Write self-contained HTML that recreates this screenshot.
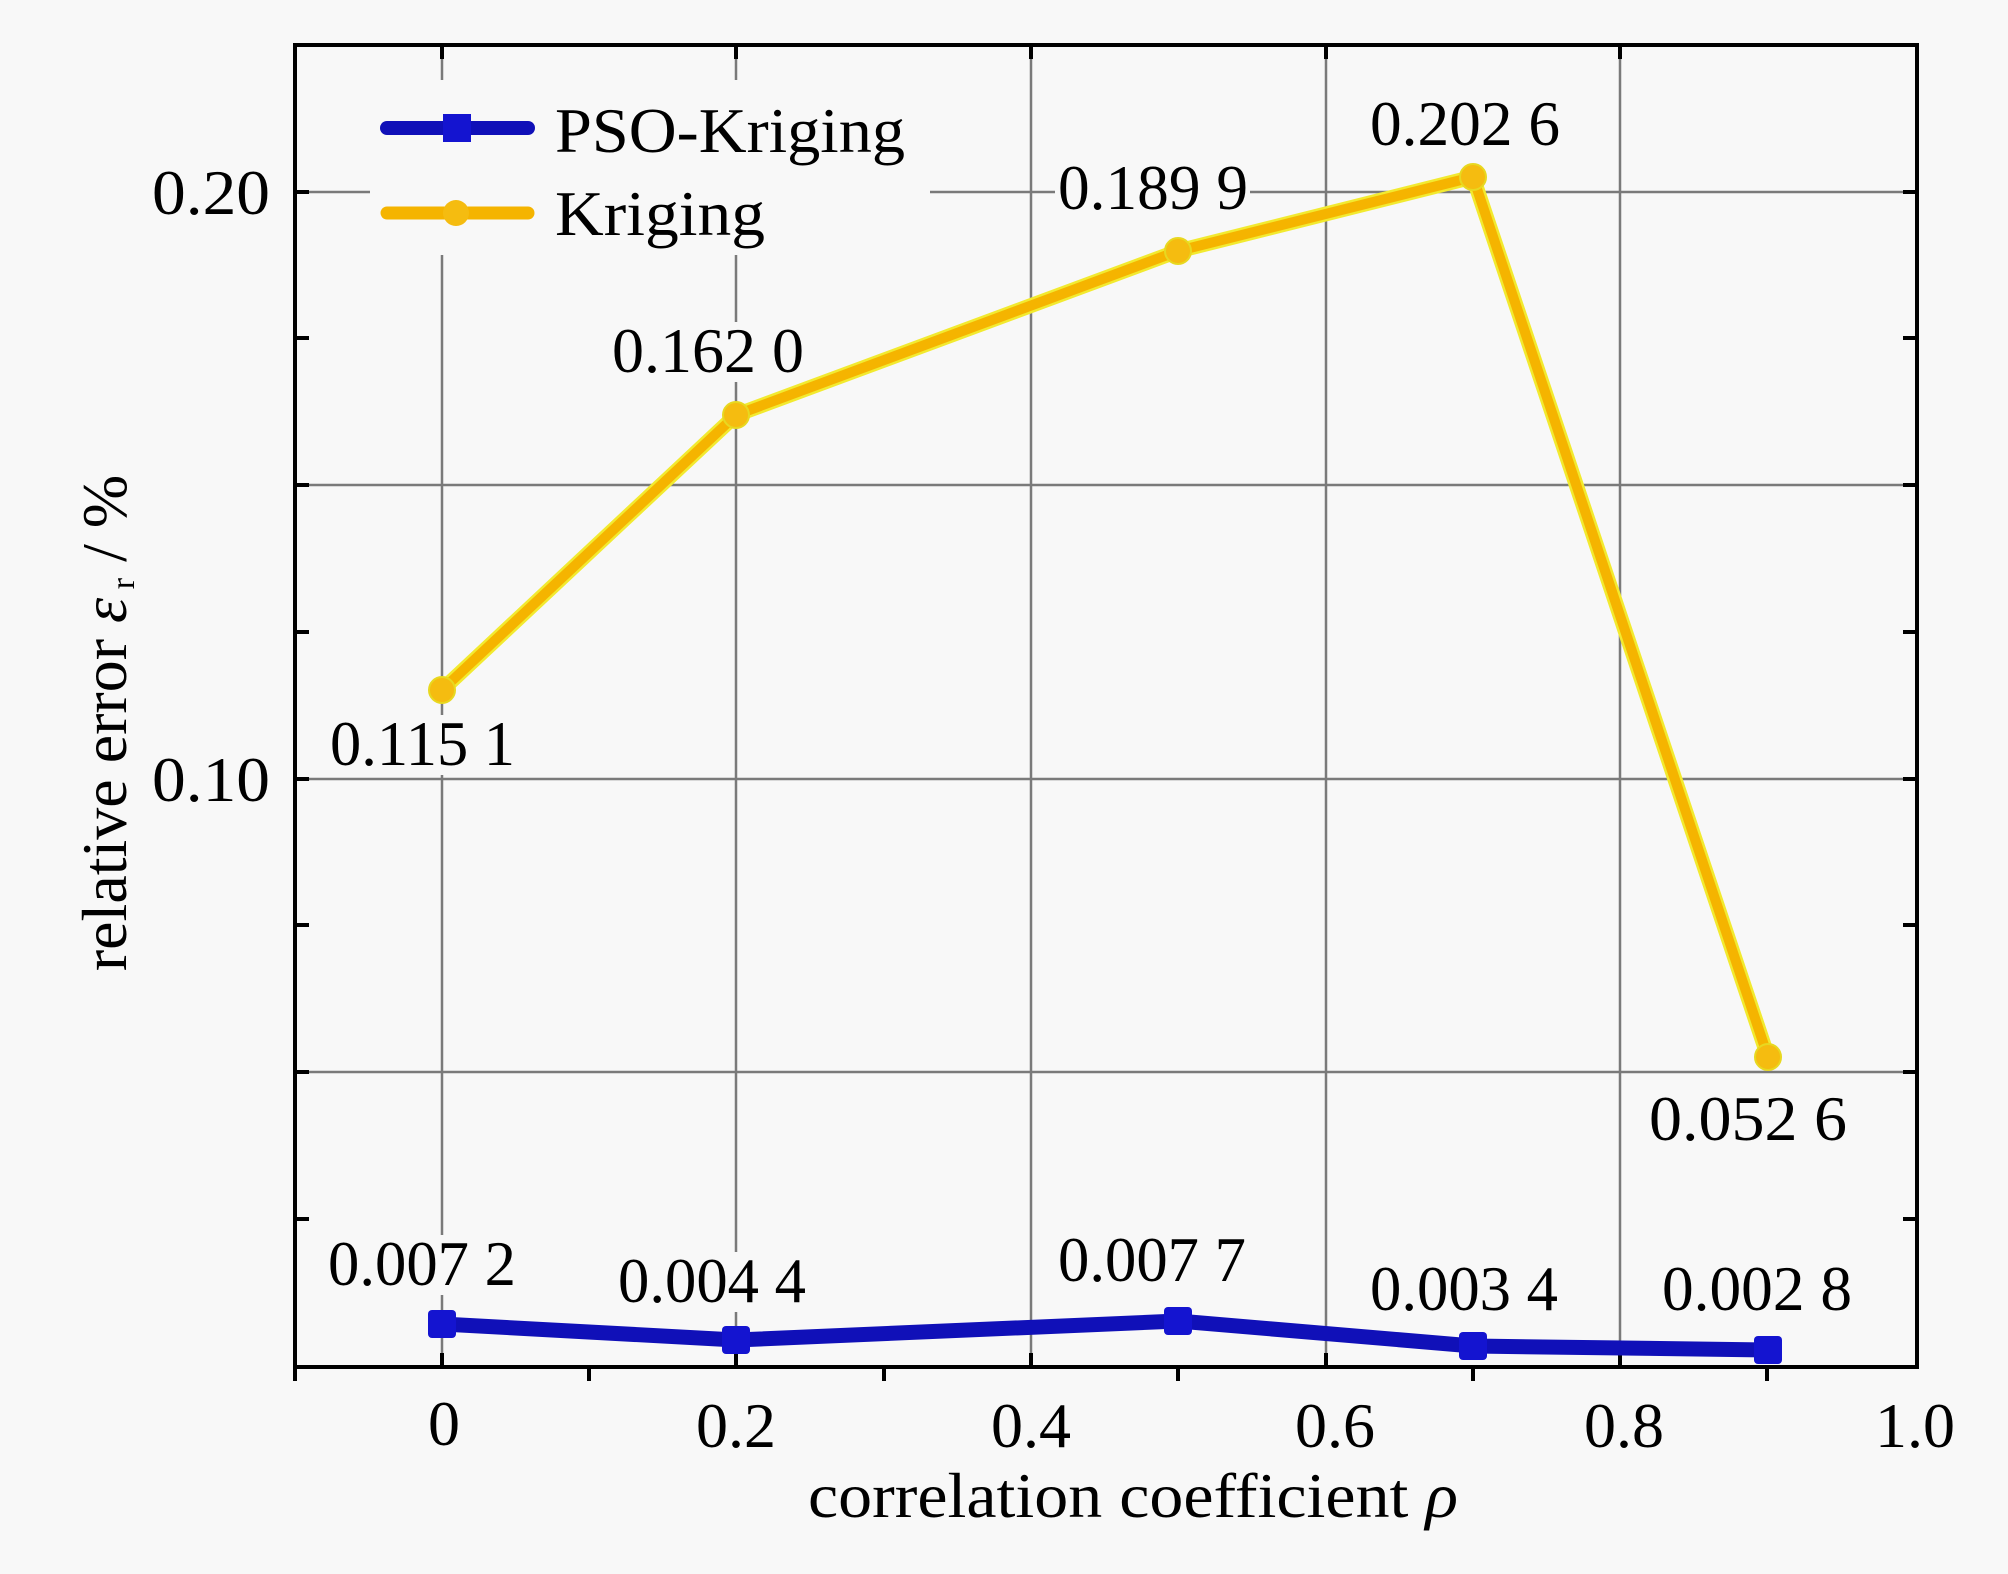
<!DOCTYPE html>
<html><head><meta charset="utf-8"><style>html,body{margin:0;padding:0;background:#f8f8f8}</style></head>
<body>
<svg width="2008" height="1569" viewBox="0 0 2008 1569" xmlns="http://www.w3.org/2000/svg" font-family="Liberation Serif, serif">
<rect width="2008" height="1569" fill="#f8f8f8"/>
<g stroke="#7a7a7a" stroke-width="2.5">
<line x1="442" y1="45" x2="442" y2="1367"/>
<line x1="736" y1="45" x2="736" y2="1367"/>
<line x1="1031" y1="45" x2="1031" y2="1367"/>
<line x1="1326" y1="45" x2="1326" y2="1367"/>
<line x1="1620" y1="45" x2="1620" y2="1367"/>
<line x1="295" y1="192" x2="1917" y2="192"/>
<line x1="295" y1="485" x2="1917" y2="485"/>
<line x1="295" y1="779" x2="1917" y2="779"/>
<line x1="295" y1="1072" x2="1917" y2="1072"/>
</g>
<!-- legend and label backgrounds -->
<rect x="370" y="80" width="560" height="175" fill="#f8f8f8"/>
<rect x="1055" y="160" width="195" height="60" fill="#f8f8f8"/>
<rect x="1365" y="95" width="195" height="60" fill="#f8f8f8"/>
<rect x="610" y="322" width="195" height="60" fill="#f8f8f8"/>
<rect x="328" y="715" width="195" height="60" fill="#f8f8f8"/>
<rect x="1645" y="1090" width="200" height="60" fill="#f8f8f8"/>
<g fill="#f8f8f8">
<rect x="325" y="1235" width="195" height="60"/>
<rect x="615" y="1252" width="195" height="60"/>
<rect x="1055" y="1230" width="195" height="60"/>
<rect x="1368" y="1260" width="195" height="60"/>
<rect x="1660" y="1260" width="195" height="60"/>
</g>
<!-- frame -->
<rect x="295" y="45" width="1622" height="1322" fill="none" stroke="#000" stroke-width="4"/>
<g stroke="#000" stroke-width="4">
<line x1="295" y1="1367" x2="295" y2="1381"/>
<line x1="442" y1="1353" x2="442" y2="1367"/>
<line x1="589" y1="1367" x2="589" y2="1381"/>
<line x1="736" y1="1353" x2="736" y2="1367"/>
<line x1="884" y1="1367" x2="884" y2="1381"/>
<line x1="1031" y1="1353" x2="1031" y2="1367"/>
<line x1="1178" y1="1367" x2="1178" y2="1381"/>
<line x1="1326" y1="1353" x2="1326" y2="1367"/>
<line x1="1473" y1="1367" x2="1473" y2="1381"/>
<line x1="1620" y1="1353" x2="1620" y2="1367"/>
<line x1="1767" y1="1367" x2="1767" y2="1381"/>
<line x1="442" y1="45" x2="442" y2="59"/><line x1="736" y1="45" x2="736" y2="59"/><line x1="1031" y1="45" x2="1031" y2="59"/><line x1="1326" y1="45" x2="1326" y2="59"/><line x1="1620" y1="45" x2="1620" y2="59"/>
<line x1="295" y1="192" x2="309" y2="192"/><line x1="295" y1="338" x2="309" y2="338"/><line x1="295" y1="485" x2="309" y2="485"/><line x1="295" y1="632" x2="309" y2="632"/><line x1="295" y1="779" x2="309" y2="779"/><line x1="295" y1="925" x2="309" y2="925"/><line x1="295" y1="1072" x2="309" y2="1072"/><line x1="295" y1="1219" x2="309" y2="1219"/>
<line x1="1903" y1="192" x2="1917" y2="192"/><line x1="1903" y1="338" x2="1917" y2="338"/><line x1="1903" y1="485" x2="1917" y2="485"/><line x1="1903" y1="632" x2="1917" y2="632"/><line x1="1903" y1="779" x2="1917" y2="779"/><line x1="1903" y1="925" x2="1917" y2="925"/><line x1="1903" y1="1072" x2="1917" y2="1072"/><line x1="1903" y1="1219" x2="1917" y2="1219"/>
</g>
<!-- Kriging -->
<polyline points="442,690 736,415 1178,251 1473,177 1768,1057" fill="none" stroke="#f2ea30" stroke-width="15" stroke-linejoin="round"/>
<polyline points="442,690 736,415 1178,251 1473,177 1768,1057" fill="none" stroke="#f5b400" stroke-width="10" stroke-linejoin="round"/>
<g fill="#f5bc10" stroke="#e8d820" stroke-width="2">
<circle cx="442" cy="690" r="13"/><circle cx="736" cy="415" r="13"/><circle cx="1178" cy="251" r="13"/><circle cx="1473" cy="177" r="13"/><circle cx="1768" cy="1057" r="13"/>
</g>
<!-- PSO -->
<polyline points="442,1324 736,1340 1178,1321 1473,1346 1768,1350" fill="none" stroke="#1010b8" stroke-width="15" stroke-linejoin="round"/>
<g fill="#1414d0">
<rect x="428" y="1310" width="28" height="28" rx="4"/><rect x="722" y="1326" width="28" height="28" rx="4"/><rect x="1164" y="1307" width="28" height="28" rx="4"/><rect x="1459" y="1332" width="28" height="28" rx="4"/><rect x="1754" y="1336" width="28" height="28" rx="4"/>
</g>
<!-- legend -->
<line x1="387" y1="128" x2="528" y2="128" stroke="#1010b8" stroke-width="14" stroke-linecap="round"/>
<rect x="443" y="114" width="28" height="28" fill="#1414d0"/>
<line x1="387" y1="213" x2="528" y2="213" stroke="#f5b400" stroke-width="13" stroke-linecap="round"/>
<circle cx="456" cy="213" r="13" fill="#f5bc10"/>
<g font-size="64" fill="#000">
<text x="555" y="152" textLength="350" lengthAdjust="spacingAndGlyphs">PSO-Kriging</text>
<text x="555" y="235" textLength="210" lengthAdjust="spacingAndGlyphs">Kriging</text>
</g>
<!-- data labels -->
<g font-size="64" fill="#000">
<text x="330" y="765" textLength="185" lengthAdjust="spacingAndGlyphs">0.115 1</text>
<text x="612" y="372" textLength="192" lengthAdjust="spacingAndGlyphs">0.162 0</text>
<text x="1058" y="209" textLength="190" lengthAdjust="spacingAndGlyphs">0.189 9</text>
<text x="1370" y="145" textLength="190" lengthAdjust="spacingAndGlyphs">0.202 6</text>
<text x="1649" y="1140" textLength="198" lengthAdjust="spacingAndGlyphs">0.052 6</text>
<text x="328" y="1285" textLength="188" lengthAdjust="spacingAndGlyphs">0.007 2</text>
<text x="618" y="1302" textLength="188" lengthAdjust="spacingAndGlyphs">0.004 4</text>
<text x="1058" y="1281" textLength="188" lengthAdjust="spacingAndGlyphs">0.007 7</text>
<text x="1370" y="1310" textLength="188" lengthAdjust="spacingAndGlyphs">0.003 4</text>
<text x="1662" y="1310" textLength="190" lengthAdjust="spacingAndGlyphs">0.002 8</text>
</g>
<!-- tick labels -->
<g font-size="64" fill="#000" text-anchor="end">
<text x="270" y="214" textLength="118" lengthAdjust="spacingAndGlyphs">0.20</text>
<text x="270" y="801" textLength="118" lengthAdjust="spacingAndGlyphs">0.10</text>
</g>
<g font-size="64" fill="#000" text-anchor="middle">
<text x="444" y="1445">0</text>
<text x="736" y="1447">0.2</text>
<text x="1031" y="1447">0.4</text>
<text x="1335" y="1447">0.6</text>
<text x="1624" y="1447">0.8</text>
<text x="1915" y="1447">1.0</text>
</g>
<text x="1133" y="1517" font-size="64" text-anchor="middle" textLength="650" lengthAdjust="spacingAndGlyphs">correlation coefficient <tspan font-style="italic">ρ</tspan></text>
<text transform="translate(126,723) rotate(-90)" font-size="64" text-anchor="middle">relative error <tspan font-style="italic">ε</tspan><tspan font-size="34" dy="8"> r</tspan><tspan dy="-8"> / %</tspan></text>
</svg>
</body></html>
